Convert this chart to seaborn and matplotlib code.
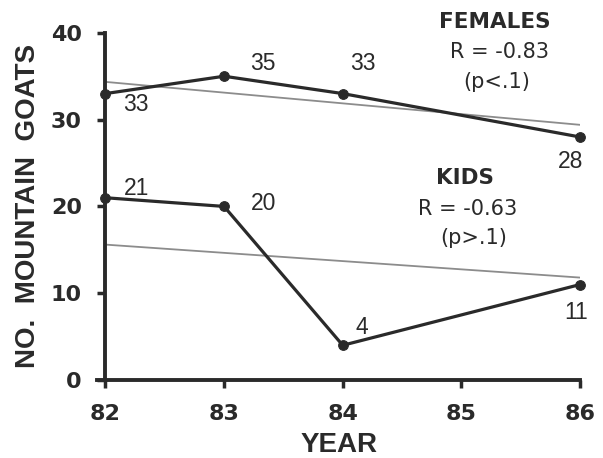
import matplotlib
matplotlib.use("Agg")
import matplotlib.pyplot as plt
import seaborn as sns
import pandas as pd

years = [82, 83, 84, 86]
females = [33, 35, 33, 28]
kids = [21, 20, 4, 11]
trend_years = [82, 86]
females_trend = [34.35, 29.4]
kids_trend = [15.6, 11.8]
x_ticks = [82, 83, 84, 85, 86]
y_ticks = [0, 10, 20, 30, 40]

sns.set_style("ticks")
plt.rcParams['font.family'] = ['Liberation Sans', 'DejaVu Sans']

fig = plt.figure(figsize=(6.03, 4.58), dpi=100)
ax = fig.add_axes([0.161, 0.1703, 0.801, 0.758])

ink = "#2a2a2a"
df_f = pd.DataFrame({"year": years, "n": females})
df_k = pd.DataFrame({"year": years, "n": kids})
df_ft = pd.DataFrame({"year": trend_years, "n": females_trend})
df_kt = pd.DataFrame({"year": trend_years, "n": kids_trend})

sns.lineplot(data=df_ft, x="year", y="n", ax=ax, color="#8c8c8c", lw=1.3)
sns.lineplot(data=df_kt, x="year", y="n", ax=ax, color="#8c8c8c", lw=1.3)
sns.lineplot(data=df_f, x="year", y="n", ax=ax, color=ink, lw=2.3,
             marker="o", markersize=7, markeredgecolor=ink, clip_on=False)
sns.lineplot(data=df_k, x="year", y="n", ax=ax, color=ink, lw=2.3,
             marker="o", markersize=7, markeredgecolor=ink, clip_on=False)

for s in ["top", "right"]:
    ax.spines[s].set_visible(False)
for s in ["left", "bottom"]:
    ax.spines[s].set_linewidth(2.8)
    ax.spines[s].set_color(ink)
ax.spines["left"].set_position(("data", 82))
ax.spines["left"].set_bounds(0, 40)

ax.set_xlim(81.93, 86)
ax.set_ylim(0, 40)
ax.set_xticks(x_ticks)
ax.set_yticks(y_ticks)
ax.set_xticklabels([str(t) for t in x_ticks], fontsize=16, fontweight="bold", family="DejaVu Sans")
ax.set_yticklabels([str(t) for t in y_ticks], fontsize=16, fontweight="bold", family="DejaVu Sans")
ax.tick_params(width=2.5, length=6, color=ink, labelcolor=ink, pad=11)

ax.set_xlabel("YEAR", fontsize=20, fontweight="bold", color=ink)
ax.set_ylabel("NO.  MOUNTAIN  GOATS", fontsize=20, fontweight="bold", color=ink)
ax.xaxis.set_label_coords(0.5, -0.15)
ax.yaxis.set_label_coords(-0.116, 0.5)

fs = 16.5
f_pos = [(82.26, 31.8), (83.33, 36.5), (84.17, 36.5), (85.92, 25.2)]
for (x, y), v in zip(f_pos, females):
    ax.text(x, y, str(v), fontsize=fs, color=ink, ha="center", va="center")
k_pos = [(82.26, 22.1), (83.33, 20.3), (84.16, 6.1), (85.97, 7.8)]
for (x, y), v in zip(k_pos, kids):
    ax.text(x, y, str(v), fontsize=fs, color=ink, ha="center", va="center")

lab_kw = dict(color=ink, ha="center", va="center", family="DejaVu Sans")
ax.text(85.28, 41.3, "FEMALES", fontsize=15.5, fontweight="bold", clip_on=False, **lab_kw)
ax.text(85.32, 37.8, "R = -0.83", fontsize=15, **lab_kw)
ax.text(85.30, 34.35, "(p<.1)", fontsize=15, **lab_kw)
ax.text(85.03, 23.3, "KIDS", fontsize=15.5, fontweight="bold", **lab_kw)
ax.text(85.05, 19.7, "R = -0.63", fontsize=15, **lab_kw)
ax.text(85.10, 16.4, "(p>.1)", fontsize=15, **lab_kw)

fig.savefig("out.png", dpi=100)
